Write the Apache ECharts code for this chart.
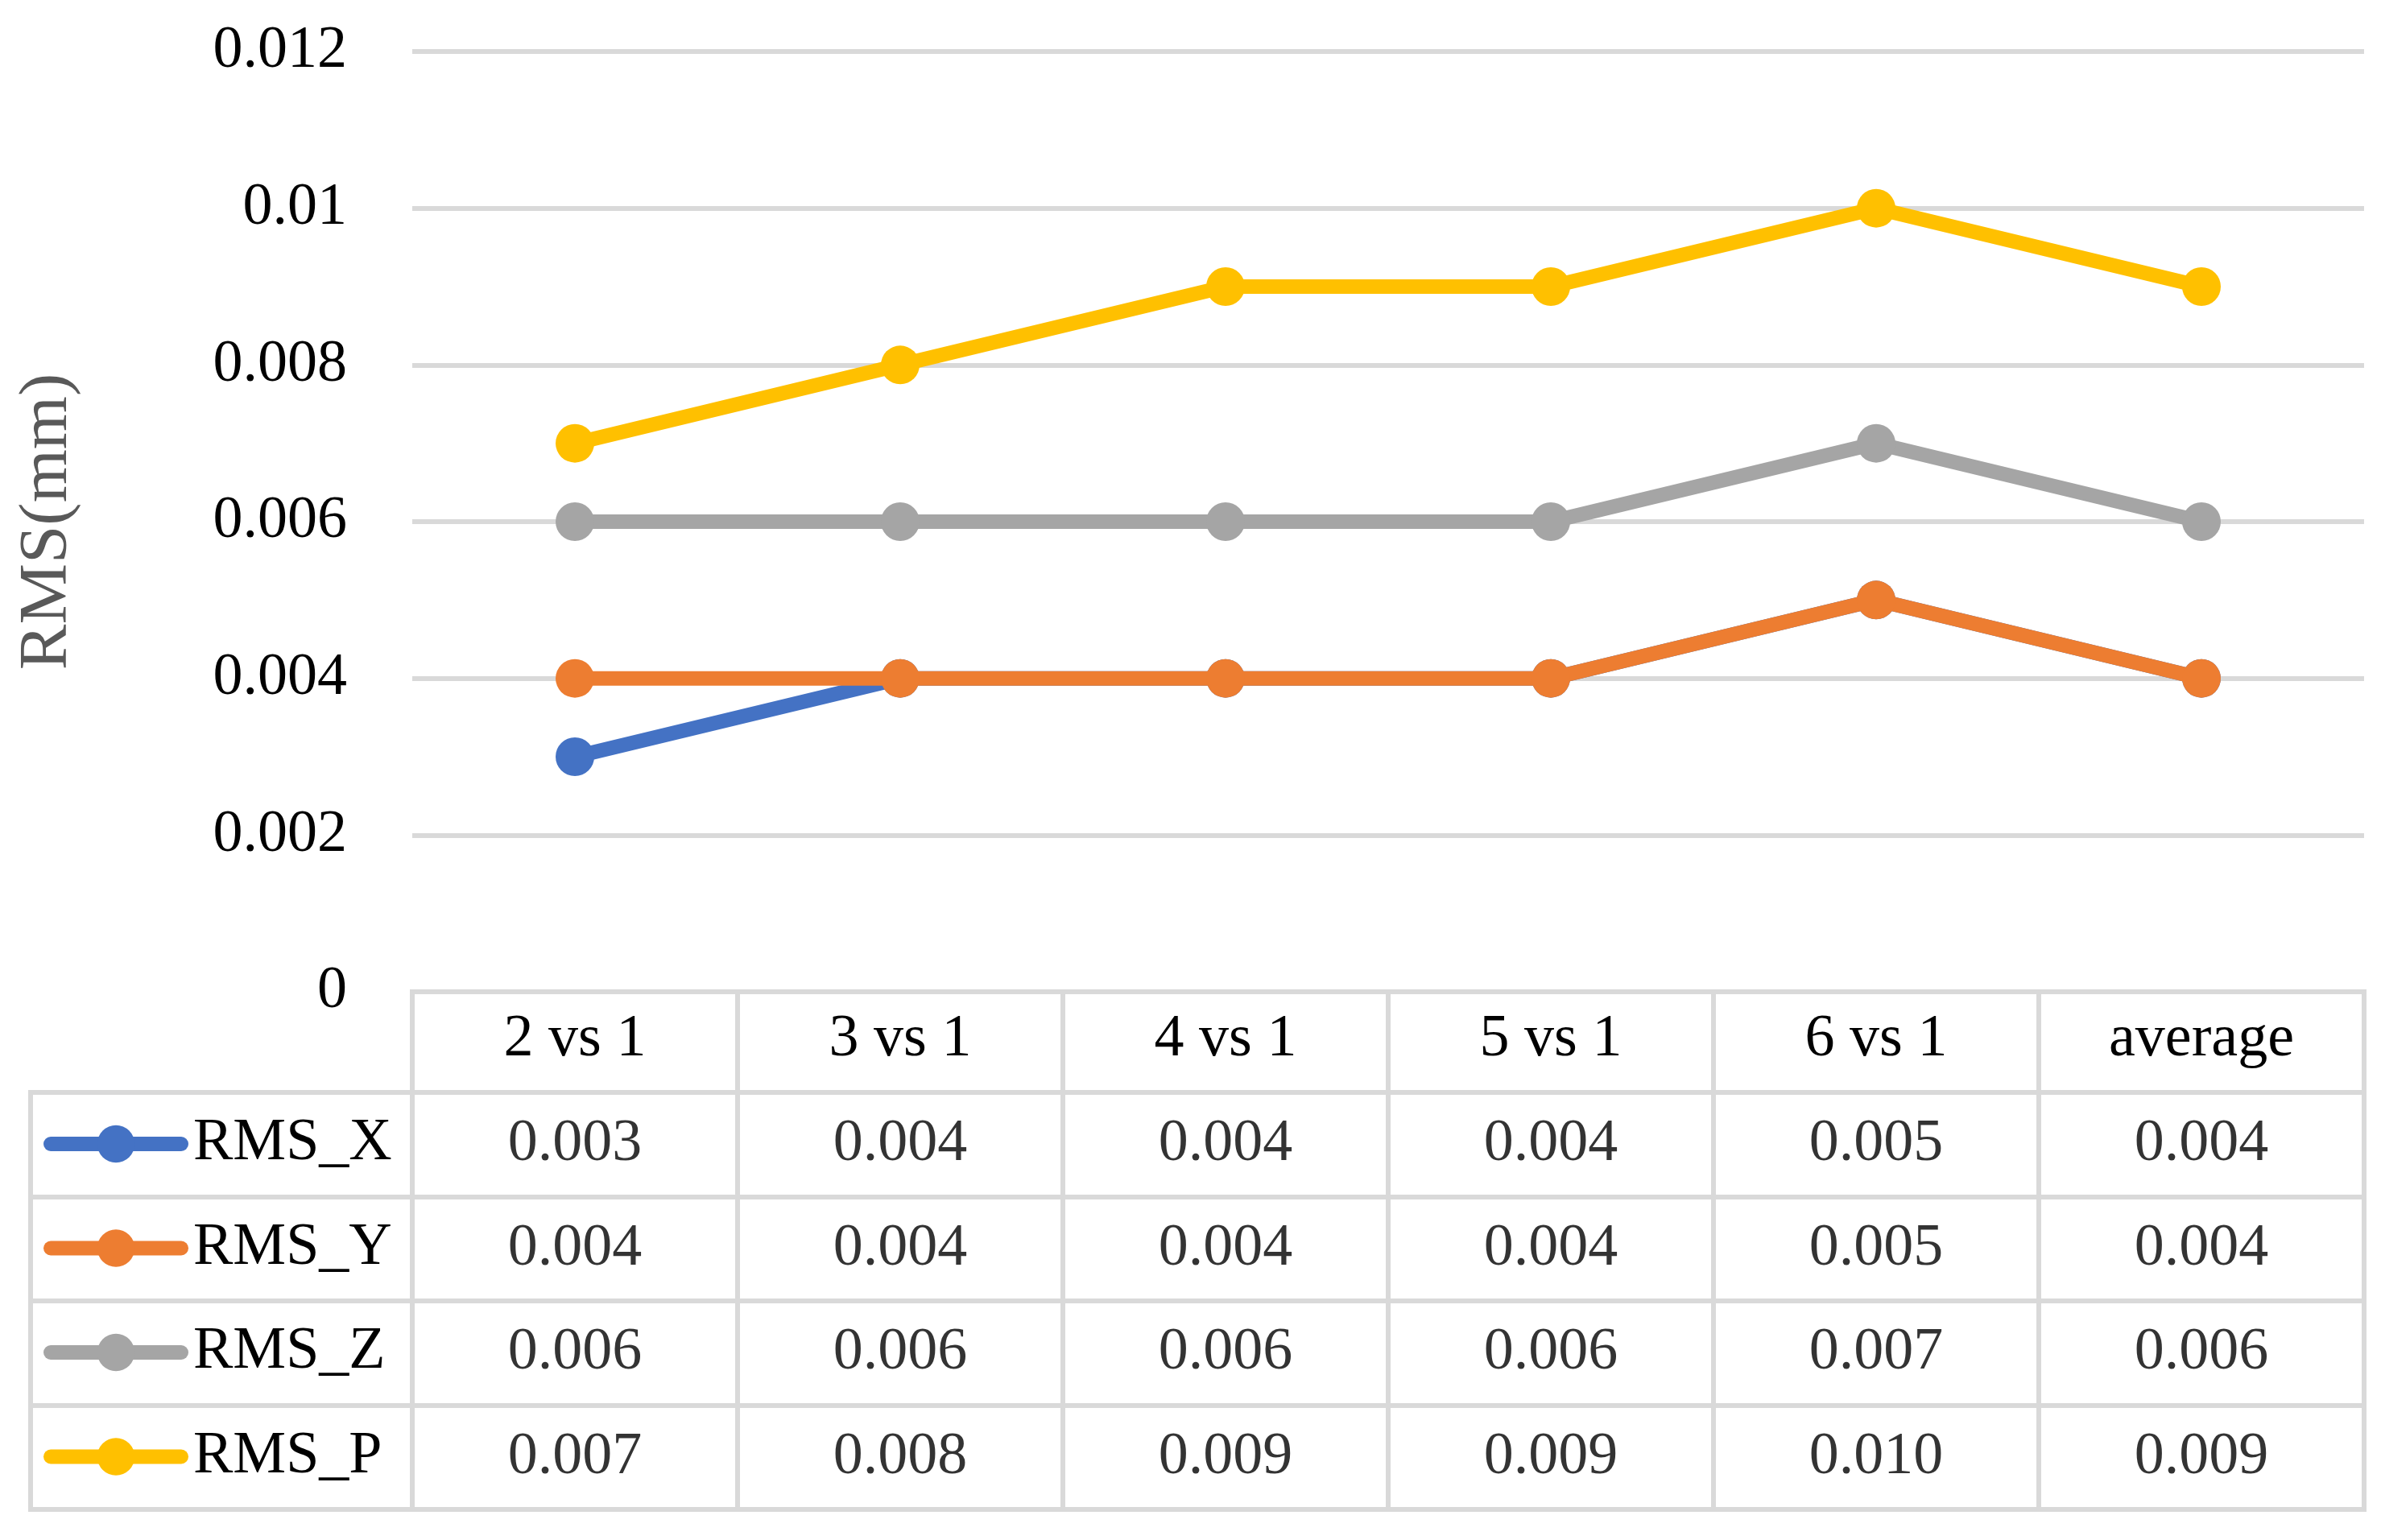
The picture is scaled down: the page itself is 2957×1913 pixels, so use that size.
<!DOCTYPE html>
<html><head><meta charset="utf-8">
<script src="https://cdn.jsdelivr.net/npm/echarts@6/dist/echarts.min.js"></script>
<style>html,body{margin:0;padding:0;background:#fff}#c{width:2957px;height:1913px}</style>
</head><body><div id="c"></div>
<script>
const categories = ['2 vs 1', '3 vs 1', '4 vs 1', '5 vs 1', '6 vs 1', 'average'];
const seriesNames = ['RMS_X', 'RMS_Y', 'RMS_Z', 'RMS_P'];
const rmsX = [0.003, 0.004, 0.004, 0.004, 0.005, 0.004];
const rmsY = [0.004, 0.004, 0.004, 0.004, 0.005, 0.004];
const rmsZ = [0.006, 0.006, 0.006, 0.006, 0.007, 0.006];
const rmsP = [0.007, 0.008, 0.009, 0.009, 0.010, 0.009];
const yMin = 0, yMax = 0.012, yInterval = 0.002;
const yAxisName = 'RMS(mm)';

const colors = ['#4472C4', '#ED7D31', '#A5A5A5', '#FFC000'];
const allValues = [rmsX, rmsY, rmsZ, rmsP];
const FONT = '"Liberation Serif", "Times New Roman", serif';
const BORDER = '#d9d9d9';
const BW = 6;

const tableData = [];
allValues.forEach((vals, r) => vals.forEach((v, c) => tableData.push([c, r, v])));

const gridBase = { outerBoundsMode: 'none', containLabel: false, backgroundColor: 'transparent', borderColor: BORDER, borderWidth: BW };

const chart = echarts.init(document.getElementById('c'));
chart.setOption({
  animation: false,
  backgroundColor: '#fff',
  color: colors,
  grid: [
    Object.assign({}, gridBase, { left: 512, right: 21, top: 64, height: 1168, show: false }),
    Object.assign({}, gridBase, { left: 512, right: 21, top: 1232, height: 125, show: true }),
    Object.assign({}, gridBase, { left: 512, right: 21, top: 1357, height: 518, show: true }),
    Object.assign({}, gridBase, { left: 38, width: 474, top: 1357, height: 518, show: true })
  ],
  xAxis: [
    { type: 'category', gridIndex: 0, data: categories, boundaryGap: true,
      axisLine: { show: false }, axisTick: { show: false },
      axisLabel: { margin: 60, verticalAlign: 'middle', fontSize: 74, fontFamily: FONT, color: '#000' },
      splitLine: { show: false } },
    { type: 'category', gridIndex: 1, data: categories, axisLine: { show: false }, axisTick: { show: false },
      axisLabel: { show: false }, splitLine: { show: true, lineStyle: { color: BORDER, width: BW } } },
    { type: 'category', gridIndex: 2, data: categories, axisLine: { show: false }, axisTick: { show: false },
      axisLabel: { show: false }, splitLine: { show: true, lineStyle: { color: BORDER, width: BW } } },
    { type: 'category', gridIndex: 3, data: [''], show: false }
  ],
  yAxis: [
    { type: 'value', gridIndex: 0, min: yMin, max: yMax, interval: yInterval,
      name: yAxisName, nameLocation: 'middle', nameGap: 410, nameRotate: 90,
      nameTextStyle: { fontSize: 85, fontFamily: FONT, color: '#595959' },
      axisLine: { show: false }, axisTick: { show: false },
      axisLabel: { margin: 81, fontSize: 74, fontFamily: FONT, color: '#000' },
      splitLine: { show: true, lineStyle: { color: BORDER, width: BW } } },
    { type: 'value', gridIndex: 1, show: false },
    { type: 'category', gridIndex: 2, data: seriesNames, inverse: true,
      axisLine: { show: false }, axisTick: { show: false }, axisLabel: { show: false },
      splitLine: { show: true, lineStyle: { color: BORDER, width: BW } } },
    { type: 'category', gridIndex: 3, data: seriesNames, inverse: true,
      axisLine: { show: false }, axisTick: { show: false }, axisLabel: { show: false },
      splitLine: { show: true, lineStyle: { color: BORDER, width: BW } } }
  ],
  legend: {
    data: seriesNames, orient: 'vertical', left: 54, top: 1384, padding: 0,
    itemWidth: 162, itemHeight: 58, itemGap: 55.5, selectedMode: false,
    textStyle: { fontSize: 74, fontFamily: FONT, color: '#000', padding: [0, 0, 0, 10] },
    lineStyle: { width: 18, cap: 'round' }
  },
  series: [
    ...seriesNames.map((n, i) => ({
      name: n, type: 'line', xAxisIndex: 0, yAxisIndex: 0, data: allValues[i],
      symbol: 'circle', symbolSize: 48, z: 10 + i,
      lineStyle: { width: 18, color: colors[i], cap: 'round', join: 'round' },
      itemStyle: { color: colors[i] },
      emphasis: { disabled: true }
    })),
    { name: 'table', type: 'scatter', xAxisIndex: 2, yAxisIndex: 2, data: tableData,
      symbolSize: 1, itemStyle: { color: 'rgba(0,0,0,0)' }, silent: true,
      label: { show: true, position: 'inside', fontSize: 74, fontFamily: FONT, color: '#000',
        formatter: p => p.value[2].toFixed(3) } }
  ]
});
</script></body></html>
